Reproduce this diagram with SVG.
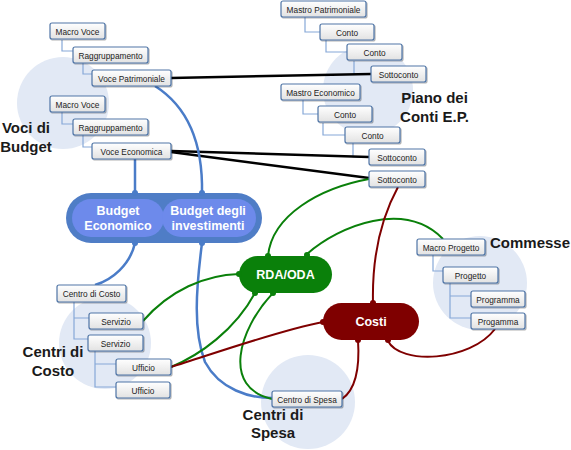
<svg xmlns="http://www.w3.org/2000/svg" width="571" height="450" viewBox="0 0 571 450">
<defs>
<linearGradient id="bg" x1="0" y1="0" x2="0" y2="1"><stop offset="0" stop-color="#ffffff"/><stop offset="1" stop-color="#e2e2e2"/></linearGradient>
<filter id="sh" x="-10%" y="-20%" width="130%" height="160%"><feDropShadow dx="1" dy="1" stdDeviation="0.6" flood-color="#000" flood-opacity="0.3"/></filter>
</defs>
<style>
.bubble{fill:#e2e9f5}
.box rect{fill:url(#bg);stroke:#4e74a6;stroke-width:1.2;filter:url(#sh)}
.box text{font-family:"Liberation Sans",Arial,sans-serif;font-size:8.3px;fill:#222;text-anchor:middle}
.tree{fill:none;stroke:#86a8d8;stroke-width:1.2}
.lbl{font-family:"Liberation Sans",Arial,sans-serif;font-size:15px;font-weight:bold;fill:#1a1a1a;text-anchor:middle}
.pt{font-family:"Liberation Sans",Arial,sans-serif;font-size:12.5px;font-weight:bold;fill:#fff;text-anchor:middle}
.blue{fill:none;stroke:#4a7cc8;stroke-width:2.5}
.green{fill:none;stroke:#0a800a;stroke-width:2}
.red{fill:none;stroke:#7f0000;stroke-width:2}
.black{fill:none;stroke:#000;stroke-width:2.5}
.bd{fill:#4a7cc8}.gd{fill:#0a800a}.rd{fill:#7f0000}
</style>
<g id="bubbles">
<circle class="bubble" cx="63" cy="103" r="46"/>
<circle class="bubble" cx="368" cy="90" r="45"/>
<circle class="bubble" cx="105" cy="343" r="46"/>
<circle class="bubble" cx="308" cy="402" r="47"/>
<circle class="bubble" cx="480" cy="283" r="47"/>
</g>
<g id="tree-links">
<path class="tree" d="M62,40V51H73M83,63V74H92"/>
<path class="tree" d="M62,112V124H73M83,135V147H92"/>
<path class="tree" d="M305,17V32H320M326,40V52H347M354,61V74H371"/>
<path class="tree" d="M303,100V114H318M323,123V135H345M353,143V157H369"/>
<path class="tree" d="M74,302V339H88M74,318H89M95,351V387H116M95,364H116"/>
<path class="tree" d="M433,255V271H443M450,283V318H471M450,296H471"/>
</g>
<g id="connectors">
<path class="black" d="M171,78L371,74"/>
<path class="black" d="M171,151C250,153 320,156 369,157"/>
<path class="black" d="M171,152C250,162 320,171 369,178"/>
<path class="blue" d="M155,86C185,105 203,140 202,193"/>
<path class="blue" d="M135,159V193"/>
<path class="blue" d="M135,243C130,265 112,280 95,285"/>
<path class="blue" d="M202,243C196,290 193,330 205,362C220,390 250,398 272,398"/>
<path class="green" d="M369,179C320,188 272,215 268,256"/>
<path class="green" d="M307,254C340,225 405,200 443,239"/>
<path class="green" d="M143,321C170,290 205,275 239,274"/>
<path class="green" d="M255,293C235,330 200,355 171,367"/>
<path class="green" d="M273,293C238,330 222,388 272,399"/>
<path class="red" d="M398,187C380,220 372,260 373,303"/>
<path class="red" d="M323,322C280,330 210,355 171,367"/>
<path class="red" d="M358,340C360,370 355,390 342,399"/>
<path class="red" d="M388,341C400,365 470,362 495,329"/>
</g>
<g id="voci-budget">
<g id="macro-voce-1" class="box"><rect x="50" y="23" width="55" height="16" rx="2"/><text x="77.5" y="34.5">Macro Voce</text></g>
<g id="raggruppamento-1" class="box"><rect x="73" y="47" width="75" height="16" rx="2"/><text x="110.5" y="58.5">Raggruppamento</text></g>
<g id="voce-patrimoniale" class="box"><rect x="92" y="70" width="79" height="16" rx="2"/><text x="131.5" y="81.5">Voce Patrimoniale</text></g>
<g id="macro-voce-2" class="box"><rect x="50" y="96" width="55" height="16" rx="2"/><text x="77.5" y="107.5">Macro Voce</text></g>
<g id="raggruppamento-2" class="box"><rect x="73" y="119" width="75" height="16" rx="2"/><text x="110.5" y="130.5">Raggruppamento</text></g>
<g id="voce-economica" class="box"><rect x="92" y="143" width="79" height="16" rx="2"/><text x="131.5" y="154.5">Voce Economica</text></g>
<text class="lbl" x="26" y="133">Voci di</text><text class="lbl" x="26" y="152">Budget</text>
</g>
<g id="piano-conti">
<g id="mastro-patrimoniale" class="box"><rect x="281" y="1" width="85" height="16" rx="2"/><text x="323.5" y="12.5">Mastro Patrimoniale</text></g>
<g id="conto-p1" class="box"><rect x="320" y="24" width="54" height="16" rx="2"/><text x="347" y="35.5">Conto</text></g>
<g id="conto-p2" class="box"><rect x="347" y="44" width="55" height="16" rx="2"/><text x="374.5" y="55.5">Conto</text></g>
<g id="sottoconto-p" class="box"><rect x="371" y="66" width="55" height="16" rx="2"/><text x="398.5" y="77.5">Sottoconto</text></g>
<g id="mastro-economico" class="box"><rect x="281" y="84" width="79" height="16" rx="2"/><text x="320.5" y="95.5">Mastro Economico</text></g>
<g id="conto-e1" class="box"><rect x="318" y="106" width="54" height="16" rx="2"/><text x="345" y="117.5">Conto</text></g>
<g id="conto-e2" class="box"><rect x="345" y="127" width="55" height="16" rx="2"/><text x="372.5" y="138.5">Conto</text></g>
<g id="sottoconto-e1" class="box"><rect x="369" y="149" width="56" height="16" rx="2"/><text x="397" y="160.5">Sottoconto</text></g>
<g id="sottoconto-e2" class="box"><rect x="369" y="171" width="56" height="16" rx="2"/><text x="397" y="182.5">Sottoconto</text></g>
<text class="lbl" x="434.5" y="103">Piano dei</text><text class="lbl" x="434.5" y="122">Conti E.P.</text>
</g>
<g id="budget">
<rect x="66" y="193" width="196" height="50" rx="25" fill="#4f7dc6"/>
<rect x="72" y="199" width="92" height="38" rx="19" fill="#6d8aeb"/>
<rect x="162" y="199" width="94" height="38" rx="19" fill="#6d8aeb"/>
<text class="pt" x="118" y="215">Budget</text><text class="pt" x="118" y="230">Economico</text>
<text class="pt" x="208" y="215">Budget degli</text><text class="pt" x="208" y="230">investimenti</text>
<circle class="bd" cx="135" cy="193" r="3"/><circle class="bd" cx="202" cy="193" r="3"/>
<circle class="bd" cx="135" cy="243" r="3"/><circle class="bd" cx="202" cy="243" r="3"/>
</g>
<g id="rda-oda">
<rect x="239" y="256" width="93" height="37" rx="18.5" fill="#0a800a"/>
<text class="pt" x="285.5" y="279">RDA/ODA</text>
<circle class="gd" cx="268" cy="256" r="3"/><circle class="gd" cx="307" cy="255" r="3"/>
<circle class="gd" cx="239" cy="274" r="3"/><circle class="gd" cx="255" cy="293" r="3"/><circle class="gd" cx="273" cy="293" r="3"/>
</g>
<g id="costi">
<rect x="323" y="303" width="96" height="37" rx="18.5" fill="#7f0000"/>
<text class="pt" x="371" y="326">Costi</text>
<circle class="rd" cx="373" cy="303" r="3"/><circle class="rd" cx="323" cy="322" r="3"/>
<circle class="rd" cx="358" cy="340" r="3"/><circle class="rd" cx="388" cy="340" r="3"/>
</g>
<g id="centri-costo">
<g id="centro-di-costo" class="box"><rect x="57" y="285" width="69" height="17" rx="2"/><text x="91.5" y="296.5">Centro di Costo</text></g>
<g id="servizio-1" class="box"><rect x="89" y="313" width="54" height="16" rx="2"/><text x="116" y="324.5">Servizio</text></g>
<g id="servizio-2" class="box"><rect x="88" y="335" width="55" height="16" rx="2"/><text x="115.5" y="346.5">Servizio</text></g>
<g id="ufficio-1" class="box"><rect x="116" y="359" width="55" height="16" rx="2"/><text x="143.5" y="370.5">Ufficio</text></g>
<g id="ufficio-2" class="box"><rect x="116" y="382" width="54" height="16" rx="2"/><text x="143" y="393.5">Ufficio</text></g>
<text class="lbl" x="53" y="357">Centri di</text><text class="lbl" x="53" y="376">Costo</text>
</g>
<g id="centri-spesa">
<g id="centro-di-spesa" class="box"><rect x="272" y="391" width="70" height="16" rx="2"/><text x="307" y="402.5">Centro di Spesa</text></g>
<text class="lbl" x="273" y="420">Centri di</text><text class="lbl" x="273" y="438">Spesa</text>
</g>
<g id="commesse">
<g id="macro-progetto" class="box"><rect x="417" y="239" width="68" height="16" rx="2"/><text x="451" y="250.5">Macro Progetto</text></g>
<g id="progetto" class="box"><rect x="443" y="267" width="55" height="16" rx="2"/><text x="470.5" y="278.5">Progetto</text></g>
<g id="programma" class="box"><rect x="471" y="291" width="54" height="16" rx="2"/><text x="498" y="302.5">Programma</text></g>
<g id="progamma" class="box"><rect x="471" y="313" width="54" height="16" rx="2"/><text x="498" y="324.5">Progamma</text></g>
<text class="lbl" x="530" y="248">Commesse</text>
</g>
</svg>
